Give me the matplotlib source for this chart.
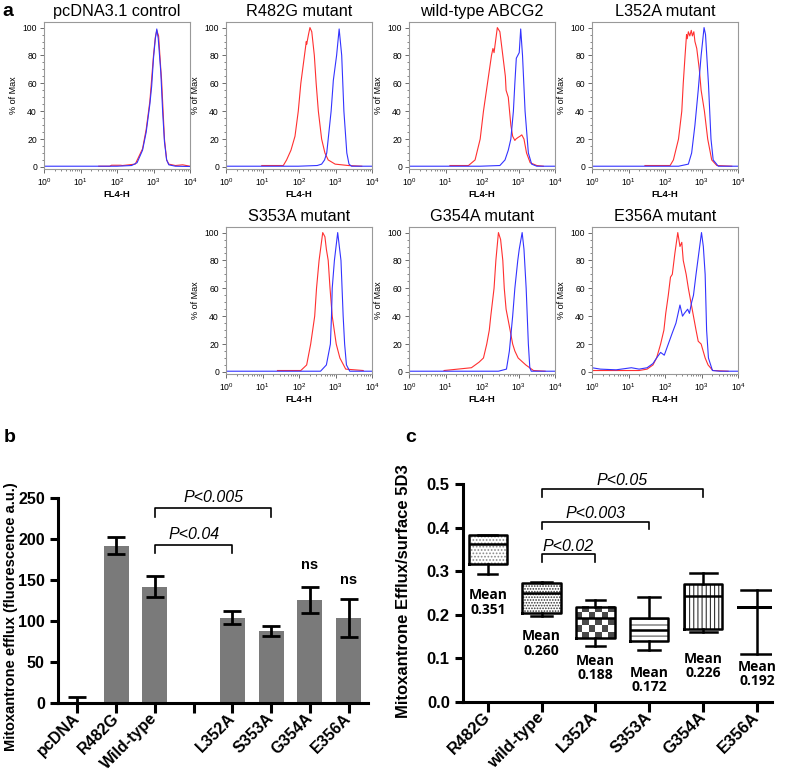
import numpy as np
import matplotlib
matplotlib.use('Agg')
import matplotlib.pyplot as plt
from matplotlib.patches import Rectangle
from matplotlib.ticker import LogLocator, MultipleLocator, NullFormatter

plt.rcParams['font.family'] = ['Liberation Sans', 'DejaVu Sans']
plt.rcParams['mathtext.fontset'] = 'custom'
plt.rcParams['mathtext.rm'] = 'Liberation Sans'
plt.rcParams['mathtext.it'] = 'Liberation Sans:italic'
plt.rcParams['mathtext.bf'] = 'Liberation Sans:bold'
plt.rcParams['hatch.linewidth'] = 0.8

# ---- panel a: flow histograms (x in log10 FL4-H, y in % of max) ----
pcdna_red_log = [1.5, 1.8, 1.85, 2.1, 2.15, 2.5, 2.7, 2.8, 2.9, 2.94, 3.0, 3.05, 3.09, 3.14, 3.2, 3.22, 3.3, 3.36, 3.42, 3.6, 3.8, 3.9, 4.0]
pcdna_red_pct = [0.5, 0.5, 1.2, 1.2, 1, 2, 13, 27, 47, 60, 80, 93, 98, 94, 70, 63, 20, 5, 2, 1, 1.5, 1, 0.5]
pcdna_blue_log = [0, 1.0, 2.0, 2.4, 2.55, 2.7, 2.8, 2.9, 2.95, 3.0, 3.05, 3.09, 3.13, 3.2, 3.25, 3.3, 3.36, 3.42, 3.6, 4.0]
pcdna_blue_pct = [0.5, 0.5, 0.5, 1, 3, 12, 25, 45, 58, 78, 92, 99, 92, 68, 40, 18, 5, 1.5, 0.5, 0.3]

r482g_red_log = [0.98, 1.57, 1.66, 1.78, 1.89, 1.98, 2.05, 2.12, 2.16, 2.2, 2.21, 2.26, 2.30, 2.35, 2.42, 2.47, 2.53, 2.62, 2.71, 2.80, 2.99, 3.35, 3.72]
r482g_red_pct = [1, 1, 5, 12, 22, 40, 60, 74, 82, 90, 88, 95, 100, 97, 80, 60, 40, 20, 10, 5, 2, 1, 0.5]
r482g_blue_log = [0, 1.98, 2.5, 2.62, 2.7, 2.76, 2.80, 2.88, 2.93, 2.94, 2.98, 3.03, 3.10, 3.17, 3.23, 3.31, 3.37, 3.44, 4.0]
r482g_blue_pct = [0.5, 0.5, 1, 2, 5, 10, 20, 40, 58, 62, 70, 80, 99, 80, 40, 10, 2, 0.5, 0.5]

wt_red_log = [1.12, 1.63, 1.81, 1.95, 2.04, 2.15, 2.26, 2.30, 2.33, 2.42, 2.49, 2.57, 2.64, 2.66, 2.72, 2.79, 2.84, 2.90, 2.93, 2.98, 3.04, 3.09, 3.15, 3.22, 3.32, 3.50, 3.68]
wt_red_pct = [1, 1, 5, 20, 40, 60, 80, 85, 82, 100, 97, 80, 65, 55, 50, 30, 22, 19, 20, 21, 22, 23, 20, 10, 3, 1, 0.5]
wt_blue_log = [0, 1.95, 2.49, 2.63, 2.72, 2.79, 2.86, 2.90, 2.94, 2.98, 3.02, 3.06, 3.11, 3.18, 3.27, 3.36, 3.50, 4.0]
wt_blue_pct = [0.5, 0.5, 1, 5, 12, 20, 40, 60, 78, 80, 82, 99, 80, 40, 10, 2, 0.5, 0.5]

l352a_red_log = [1.45, 2.14, 2.23, 2.37, 2.46, 2.50, 2.55, 2.59, 2.61, 2.64, 2.68, 2.72, 2.75, 2.79, 2.82, 2.87, 2.94, 2.99, 3.08, 3.17, 3.28, 3.42, 3.83]
l352a_red_pct = [1, 1, 5, 20, 40, 60, 80, 95, 92, 97, 94, 98, 94, 97, 90, 85, 70, 55, 40, 20, 5, 1, 0.5]
l352a_blue_log = [0, 2.37, 2.64, 2.73, 2.82, 2.91, 2.99, 3.07, 3.11, 3.19, 3.26, 3.32, 3.46, 4.0]
l352a_blue_pct = [0.5, 0.5, 2, 10, 30, 55, 80, 100, 95, 60, 20, 5, 0.5, 0.5]

s353a_red_log = [1.41, 2.05, 2.21, 2.32, 2.43, 2.48, 2.55, 2.65, 2.71, 2.75, 2.80, 2.85, 2.91, 3.02, 3.12, 3.28, 3.76]
s353a_red_pct = [1, 1, 5, 20, 40, 60, 80, 100, 97, 88, 80, 60, 40, 20, 10, 2, 1]
s353a_blue_log = [0, 2.59, 2.75, 2.86, 2.89, 2.91, 2.97, 3.06, 3.15, 3.21, 3.25, 3.30, 3.39, 4.0]
s353a_blue_pct = [0.5, 0.5, 5, 20, 40, 60, 80, 100, 80, 40, 20, 5, 0.5, 0.5]

g354a_red_log = [0.96, 1.71, 1.92, 2.04, 2.13, 2.20, 2.24, 2.33, 2.38, 2.45, 2.51, 2.57, 2.61, 2.66, 2.77, 2.84, 2.90, 2.99, 3.20, 3.41, 3.73]
g354a_red_pct = [1, 3, 7, 10, 20, 30, 40, 60, 80, 100, 95, 80, 60, 45, 30, 20, 15, 10, 5, 1, 0.5]
g354a_blue_log = [0, 2.45, 2.67, 2.75, 2.84, 2.90, 2.98, 3.02, 3.10, 3.15, 3.21, 3.27, 3.31, 3.35, 4.0]
g354a_blue_pct = [0.5, 0.5, 2, 15, 40, 60, 80, 88, 100, 88, 60, 20, 3, 0.5, 0.5]

e356a_red_log = [0, 1.29, 1.51, 1.67, 1.77, 1.88, 1.97, 2.02, 2.09, 2.15, 2.20, 2.27, 2.35, 2.41, 2.46, 2.50, 2.58, 2.64, 2.71, 2.78, 2.85, 2.91, 2.99, 3.10, 3.18, 3.31, 3.73]
e356a_red_pct = [1, 1, 2, 5, 10, 20, 30, 42, 55, 68, 70, 85, 100, 90, 93, 80, 70, 60, 50, 40, 30, 22, 20, 10, 5, 1, 0.5]
e356a_blue_log = [0, 0.23, 0.66, 1.08, 1.29, 1.51, 1.67, 1.77, 1.88, 1.98, 2.09, 2.20, 2.30, 2.41, 2.48, 2.53, 2.62, 2.67, 2.73, 2.78, 2.85, 2.91, 3.00, 3.05, 3.10, 3.14, 3.19, 3.30, 3.50, 4.0]
e356a_blue_pct = [3, 2, 1.5, 3, 2, 3, 6, 10, 14, 12, 20, 28, 35, 48, 40, 42, 45, 42, 50, 55, 70, 82, 100, 90, 70, 30, 10, 1, 0.5, 0.5]

# ---- panel b: bar chart ----
b_labels = ['pcDNA', 'R482G', 'Wild-type', '', 'L352A', 'S353A', 'G354A', 'E356A']
b_values = [0, 192, 142, np.nan, 104, 88, 126, 104]
b_errors = [7, 10, 13, np.nan, 8, 6, 16, 23]

# ---- panel c: box plots ----
c_labels = ['R482G', 'wild-type', 'L352A', 'S353A', 'G354A', 'E356A']
c_whislo = [0.294, 0.197, 0.128, 0.119, 0.161, 0.110]
c_q1 = [0.317, 0.205, 0.146, 0.140, 0.167, 0.219]
c_med = [0.362, 0.249, 0.193, 0.165, 0.242, 0.219]
c_q3 = [0.382, 0.272, 0.219, 0.192, 0.270, 0.219]
c_whishi = [0.382, 0.275, 0.234, 0.240, 0.295, 0.257]
c_means = ['0.351', '0.260', '0.188', '0.172', '0.226', '0.192']

W, H = 789, 773
fig = plt.figure(figsize=(W / 100, H / 100), dpi=100)


def flow_panel(left, bottom, title, rx, ry, bx, by):
    ax = fig.add_axes([left / W, 1 - bottom / H, 146 / W, 147 / H])
    ax.plot(10 ** np.array(rx), ry, color='#ff3030', lw=0.8)
    ax.plot(10 ** np.array(bx), by, color='#3333ff', lw=0.8)
    ax.set_xscale('log')
    ax.set_xlim(1, 1e4)
    ax.set_ylim(-1.5, 104)
    ax.set_xticks([1, 10, 100, 1000, 10000])
    ax.set_xticklabels([r'$10^{%d}$' % i for i in range(5)])
    ax.xaxis.set_minor_locator(LogLocator(base=10, subs=np.arange(2, 10)))
    ax.xaxis.set_minor_formatter(NullFormatter())
    ax.set_yticks([0, 20, 40, 60, 80, 100])
    ax.yaxis.set_minor_locator(MultipleLocator(5))
    ax.tick_params(which='major', length=3, width=0.6, color='#555555', labelsize=6.2, pad=2)
    ax.tick_params(which='minor', length=1.6, width=0.5, color='#555555')
    for s in ax.spines.values():
        s.set_color('#999999')
        s.set_linewidth(0.8)
    ax.set_title(title, fontsize=11.7, pad=4)
    ax.set_ylabel('% of Max', fontsize=6.5, labelpad=3)
    ax.set_xlabel('FL4-H', fontsize=6.8, fontweight='bold', labelpad=2)


flow_panel(44, 169, 'pcDNA3.1 control', pcdna_red_log, pcdna_red_pct, pcdna_blue_log, pcdna_blue_pct)
flow_panel(226, 169, 'R482G mutant', r482g_red_log, r482g_red_pct, r482g_blue_log, r482g_blue_pct)
flow_panel(409, 169, 'wild-type ABCG2', wt_red_log, wt_red_pct, wt_blue_log, wt_blue_pct)
flow_panel(592, 169, 'L352A mutant', l352a_red_log, l352a_red_pct, l352a_blue_log, l352a_blue_pct)
flow_panel(226, 374, 'S353A mutant', s353a_red_log, s353a_red_pct, s353a_blue_log, s353a_blue_pct)
flow_panel(409, 374, 'G354A mutant', g354a_red_log, g354a_red_pct, g354a_blue_log, g354a_blue_pct)
flow_panel(592, 374, 'E356A mutant', e356a_red_log, e356a_red_pct, e356a_blue_log, e356a_blue_pct)


def bracket(ax, x0, x1, y, drop, ty, text, size):
    ax.plot([x0, x0, x1, x1], [y - drop, y, y, y - drop], color='black', lw=1.2, clip_on=False)
    ax.text((x0 + x1) / 2, ty, text, ha='center', va='center', fontsize=size, style='italic')


def style_axes(ax, labelsize):
    for side in ['top', 'right']:
        ax.spines[side].set_visible(False)
    for side in ['left', 'bottom']:
        ax.spines[side].set_linewidth(2.2)
    ax.tick_params(axis='both', width=2.2, length=6, labelsize=labelsize)
    for lbl in ax.get_yticklabels():
        lbl.set_fontweight('bold')


# panel b
axb = fig.add_axes([58 / W, 70 / H, 310 / W, 205 / H])
xb = np.arange(len(b_labels))
axb.bar(xb, b_values, width=0.65, color='#7a7a7a')
axb.errorbar(xb, b_values, yerr=b_errors, fmt='none', ecolor='black', elinewidth=2, capsize=6.5, capthick=2)
axb.set_xlim(-0.5, 7.5)
axb.set_ylim(0, 250)
axb.set_yticks([0, 50, 100, 150, 200, 250])
axb.set_xticks(xb)
axb.set_xticklabels(b_labels, rotation=45, ha='right', va='center', rotation_mode='anchor',
                    fontsize=11.5, fontweight='bold')
style_axes(axb, 11.5)
axb.tick_params(axis='x', length=7, pad=2)
axb.set_ylabel('Mitoxantrone efflux (fluorescence a.u.)', fontsize=10.5, fontweight='bold')
axb.yaxis.set_label_coords(-0.13, 0.42)
bracket(axb, 2, 5, 238, 11, 251, 'P<0.005', 11.5)
bracket(axb, 2, 4, 193, 10, 205, 'P<0.04', 11.5)
axb.text(6, 168, 'ns', ha='center', va='center', fontsize=10.5, fontweight='bold')
axb.text(7, 150, 'ns', ha='center', va='center', fontsize=10.5, fontweight='bold')

# panel c
axc = fig.add_axes([463 / W, 71 / H, 309 / W, 218 / H])
box_w = 0.71
stats = [dict(whislo=c_whislo[i], q1=c_q1[i], med=c_med[i], q3=c_q3[i], whishi=c_whishi[i])
         for i in range(len(c_labels))]
lw = 1.8
axc.bxp(stats, positions=range(len(c_labels)), widths=box_w,
        capwidths=[0.36, 0.4, 0.34, 0.4, 0.5, 0.6], showfliers=False, manage_ticks=False,
        boxprops=dict(color='black', linewidth=lw), whiskerprops=dict(color='black', linewidth=lw),
        capprops=dict(color='black', linewidth=lw), medianprops=dict(color='black', linewidth=lw),
        zorder=3)
hatches = [('.....', '#8a8a8a'), ('......', '#333333'), (None, None), ('---', '#555555'), ('||||', '#333333')]
for i, (h, col) in enumerate(hatches):
    x0 = i - box_w / 2
    if h is None:
        checker = np.indices((5, 6)).sum(axis=0) % 2
        axc.imshow(checker, extent=(x0, x0 + box_w, c_q1[i], c_q3[i]), cmap='gray_r',
                   interpolation='nearest', aspect='auto', zorder=2, vmin=0, vmax=1.4)
    else:
        axc.add_patch(Rectangle((x0, c_q1[i]), box_w, c_q3[i] - c_q1[i], facecolor='white',
                                edgecolor=col, lw=0, hatch=h, zorder=2))
axc.set_xlim(-0.46, 5.28)
axc.set_ylim(0, 0.5)
axc.set_yticks([0, 0.1, 0.2, 0.3, 0.4, 0.5])
axc.set_yticklabels(['0.0', '0.1', '0.2', '0.3', '0.4', '0.5'])
axc.set_xticks(range(len(c_labels)))
axc.set_xticklabels(c_labels, rotation=45, ha='right', va='center', rotation_mode='anchor',
                    fontsize=12, fontweight='bold')
style_axes(axc, 12)
axc.tick_params(axis='x', length=7, pad=2)
axc.set_ylabel('Mitoxantrone Efflux/surface 5D3', fontsize=12, fontweight='bold')
axc.yaxis.set_label_coords(-0.168, 0.51)

mean_label_y = [0.228, 0.134, 0.078, 0.050, 0.083, 0.064]
for i, m in enumerate(c_means):
    axc.text(i, mean_label_y[i], 'Mean\n' + m, ha='center', va='center', fontsize=10,
             fontweight='bold', family='Open Sans', linespacing=1.05)

bracket(axc, 1, 4, 0.488, 0.018, 0.509, 'P<0.05', 11.5)
bracket(axc, 1, 3, 0.412, 0.016, 0.433, 'P<0.003', 11.5)
bracket(axc, 1, 2, 0.339, 0.018, 0.357, 'P<0.02', 11.5)

fig.text(8 / W, 1 - 12 / H, 'a', fontsize=14, fontweight='bold', ha='center', va='center')
fig.text(10 / W, 1 - 437 / H, 'b', fontsize=14, fontweight='bold', ha='center', va='center')
fig.text(411 / W, 1 - 437 / H, 'c', fontsize=14, fontweight='bold', ha='center', va='center')

fig.savefig('out.png', dpi=100)
